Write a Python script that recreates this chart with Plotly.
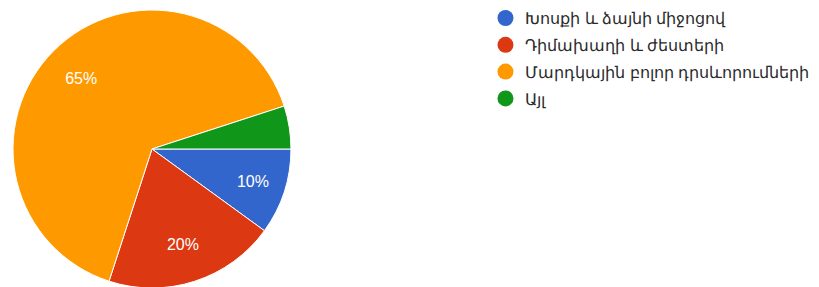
import plotly.graph_objects as go

labels = ["Խոսքի և ձայնի միջոցով", "Դիմախաղի և ժեստերի", "Մարդկային բոլոր դրսևորումների", "Այլ"]
values = [10, 20, 65, 5]
colors = ["#3366cc", "#dc3912", "#ff9900", "#109618"]

dom = dict(x=[0.0061, 0.3455], y=[0.0244, 0.993])

fig = go.Figure()
fig.add_trace(go.Pie(
    labels=labels, values=values, sort=False, direction="clockwise", rotation=90,
    marker=dict(colors=colors, line=dict(color="white", width=1)),
    textinfo="none", showlegend=False, hoverinfo="label+percent",
    domain=dom,
))
fig.add_trace(go.Pie(
    labels=labels, values=values, sort=False, direction="clockwise", rotation=90,
    hole=0.44, marker=dict(colors=["rgba(0,0,0,0)"] * 4, line=dict(width=0)),
    texttemplate="%{percent:.0%}",
    textposition=["inside", "inside", "inside", "none"],
    insidetextorientation="horizontal",
    textfont=dict(color="white", size=16, family="Arial, Liberation Sans"),
    showlegend=False, hoverinfo="skip",
    domain=dom,
))
for i, (lab, col) in enumerate(zip(labels, colors)):
    fig.add_trace(go.Scatter(x=[None], y=[None], mode="markers", name=lab,
                             legendgroup=f"g{i}",
                             marker=dict(symbol="circle", size=16, color=col)))

fig.update_layout(
    width=819, height=287, margin=dict(l=0, r=0, t=0, b=0, autoexpand=False),
    paper_bgcolor="white", plot_bgcolor="white",
    xaxis=dict(visible=False), yaxis=dict(visible=False),
    legend=dict(x=0.583, y=1.024, xanchor="left", yanchor="top",
                font=dict(size=16, color="#2a2a2a", family="Noto Sans"),
                itemsizing="trace", tracegroupgap=3),
)
fig.write_html("out.html")
